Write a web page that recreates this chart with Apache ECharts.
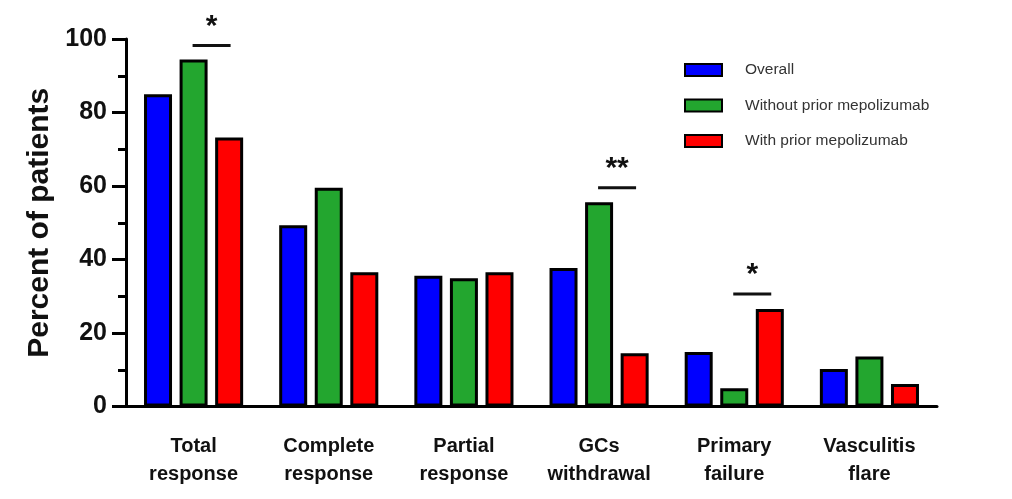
<!DOCTYPE html>
<html><head><meta charset="utf-8">
<script src="https://cdn.jsdelivr.net/npm/echarts@6/dist/echarts.min.js"></script>
<style>html,body{margin:0;padding:0;background:#fff}#c{width:1012px;height:499px}</style>
</head><body><div id="c"></div>
<script>
const categories = ['Total\nresponse','Complete\nresponse','Partial\nresponse','GCs\nwithdrawal','Primary\nfailure','Vasculitis\nflare'];
const overall = [85, 49.3, 35.6, 37.7, 14.8, 10.2];
const withoutPrior = [94.4, 59.5, 34.9, 55.6, 5.0, 13.6];
const withPrior = [73.2, 36.5, 36.5, 14.5, 26.5, 6.1];
const seriesNames = ['Overall','Without prior mepolizumab','With prior mepolizumab'];
// significance brackets: [category index, y value of bar line, label]
const significance = [[0, 98.2, '*'], [3, 59.5, '**'], [4, 30.6, '*']];

const chart = echarts.init(document.getElementById('c'));
const font = 'Liberation Sans, Arial, sans-serif';
const barStyle = c => ({color: c, borderColor: '#000', borderWidth: 3});
chart.setOption({
  animation: false,
  grid: {left: 126, right: 75, top: 39, bottom: 92.5},
  legend: {
    orient: 'vertical', left: 679, top: 57, itemWidth: 37, itemHeight: 12, itemGap: 19.5, icon: 'rect',
    textStyle: {fontFamily: font, fontSize: 15.5, color: '#333', padding: [0,0,0,18]},
    data: seriesNames
  },
  xAxis: {
    type: 'category', data: categories,
    axisLine: {lineStyle: {color: '#000', width: 3}},
    axisTick: {alignWithLabel: true, length: 13, lineStyle: {width: 3, color: '#000'}},
    axisLabel: {fontFamily: font, fontWeight: 'bold', fontSize: 20, color: '#111', lineHeight: 28, margin: 26, interval: 0}
  },
  yAxis: {
    type: 'value', min: 0, max: 100, interval: 20,
    name: 'Percent of patients', nameLocation: 'middle', nameGap: 71,
    nameTextStyle: {fontFamily: font, fontWeight: 'bold', fontSize: 30, color: '#111'},
    axisLine: {show: true, lineStyle: {color: '#000', width: 3}},
    axisTick: {show: true, length: 14, lineStyle: {width: 3, color: '#000'}},
    minorTick: {show: true, splitNumber: 2, length: 8, lineStyle: {width: 3, color: '#000'}},
    splitLine: {show: false},
    axisLabel: {fontFamily: font, fontWeight: 'bold', fontSize: 25, color: '#111', margin: 19}
  },
  series: [
    {name: seriesNames[0], type: 'bar', data: overall, barWidth: 28, barGap: '27%', itemStyle: barStyle('#0000ff')},
    {name: seriesNames[1], type: 'bar', data: withoutPrior, barWidth: 28, barGap: '27%', itemStyle: barStyle('#23a62f')},
    {name: seriesNames[2], type: 'bar', data: withPrior, barWidth: 28, barGap: '27%', itemStyle: barStyle('#ff0000')},
    {
      type: 'custom', data: significance, silent: true,
      encode: {x: 0, y: 1},
      renderItem: (params, api) => {
        const p = api.coord([api.value(0), api.value(1)]);
        const x1 = p[0] - 1, x2 = p[0] + 37;
        return {type: 'group', children: [
          {type: 'line', shape: {x1: x1, y1: p[1], x2: x2, y2: p[1]}, style: {stroke: '#111', lineWidth: 3}},
          {type: 'text', style: {text: significance[params.dataIndex][2], x: (x1 + x2) / 2, y: p[1] - 4,
            align: 'center', verticalAlign: 'bottom', fontFamily: font, fontWeight: 'bold', fontSize: 30, fill: '#111'}}
        ]};
      }
    }
  ]
});
</script></body></html>
